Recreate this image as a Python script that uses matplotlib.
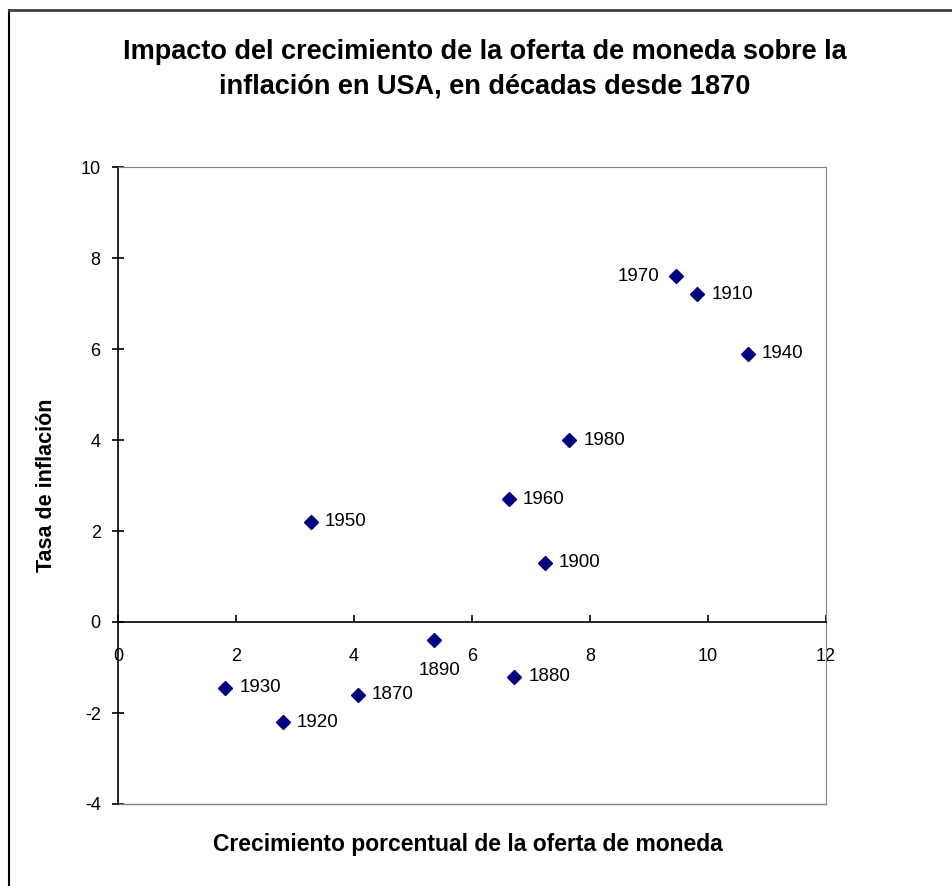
import matplotlib.pyplot as plt
from matplotlib.lines import Line2D

# datos
decadas = ['1870', '1880', '1890', '1900', '1910', '1920', '1930',
           '1940', '1950', '1960', '1970', '1980']
crecimiento = [4.07, 6.72, 5.36, 7.24, 9.82, 2.8, 1.82, 10.68, 3.27, 6.63, 9.45, 7.65]
inflacion = [-1.6, -1.2, -0.4, 1.3, 7.2, -2.2, -1.45, 5.9, 2.2, 2.7, 7.6, 4.0]

plt.rcParams['font.family'] = ['Liberation Sans', 'DejaVu Sans']
plt.rcParams['axes.unicode_minus'] = False

fig = plt.figure(figsize=(9.52, 8.86), dpi=100)
ax = fig.add_axes([118/952, 1 - 804/886, 708/952, 637/886])

ax.plot(crecimiento, inflacion, linestyle='none', marker='D', markersize=7,
        color='#000080')

# etiquetas de los puntos
for d, x, y in zip(decadas, crecimiento, inflacion):
    if d == '1970':
        ax.annotate(d, (x, y), xytext=(-12, 0), textcoords='offset points',
                    ha='right', va='center', fontsize=13.5)
    elif d == '1890':
        ax.annotate(d, (x, y), xytext=(4, -16), textcoords='offset points',
                    ha='center', va='top', fontsize=13.5)
    else:
        ax.annotate(d, (x, y), xytext=(10, 0), textcoords='offset points',
                    ha='left', va='center', fontsize=13.5)

ax.set_xlim(0, 12)
ax.set_ylim(-4, 10)
ax.set_xticks(range(0, 13, 2))
ax.set_yticks(range(-4, 11, 2))

ax.spines['bottom'].set_position(('data', 0))
ax.spines['bottom'].set_linewidth(1.2)
ax.spines['left'].set_linewidth(1.2)
ax.spines['top'].set_color('#808080')
ax.spines['right'].set_color('#808080')
ax.add_line(Line2D([0, 1], [0, 0], transform=ax.transAxes, color='#808080',
                   linewidth=1, clip_on=False))

ax.tick_params(axis='x', direction='in', length=5, width=1.2, pad=19,
               labelsize=13)
ax.tick_params(axis='y', direction='inout', length=9, width=1.2, pad=8,
               labelsize=13)

fig.text(0.509, 0.922, 'Impacto del crecimiento de la oferta de moneda sobre la\n'
         'inflación en USA, en décadas desde 1870', ha='center', va='center',
         fontsize=19.5, fontweight='bold', linespacing=1.4)
fig.text(468/952, 1 - 845/886, 'Crecimiento porcentual de la oferta de moneda',
         ha='center', va='center', fontsize=16.5, fontweight='bold')
fig.text(47/952, 1 - 485/886, 'Tasa de inflación', ha='center', va='center',
         rotation=90, fontsize=15.5, fontweight='bold')

# marco exterior
fig.add_artist(Line2D([9/952, 9/952], [0, 1 - 10/886], transform=fig.transFigure,
                      color='black', linewidth=1.5))
fig.add_artist(Line2D([9/952, 1], [1 - 10/886, 1 - 10/886], transform=fig.transFigure,
                      color='#404040', linewidth=2))

fig.savefig('out.png', dpi=100)
